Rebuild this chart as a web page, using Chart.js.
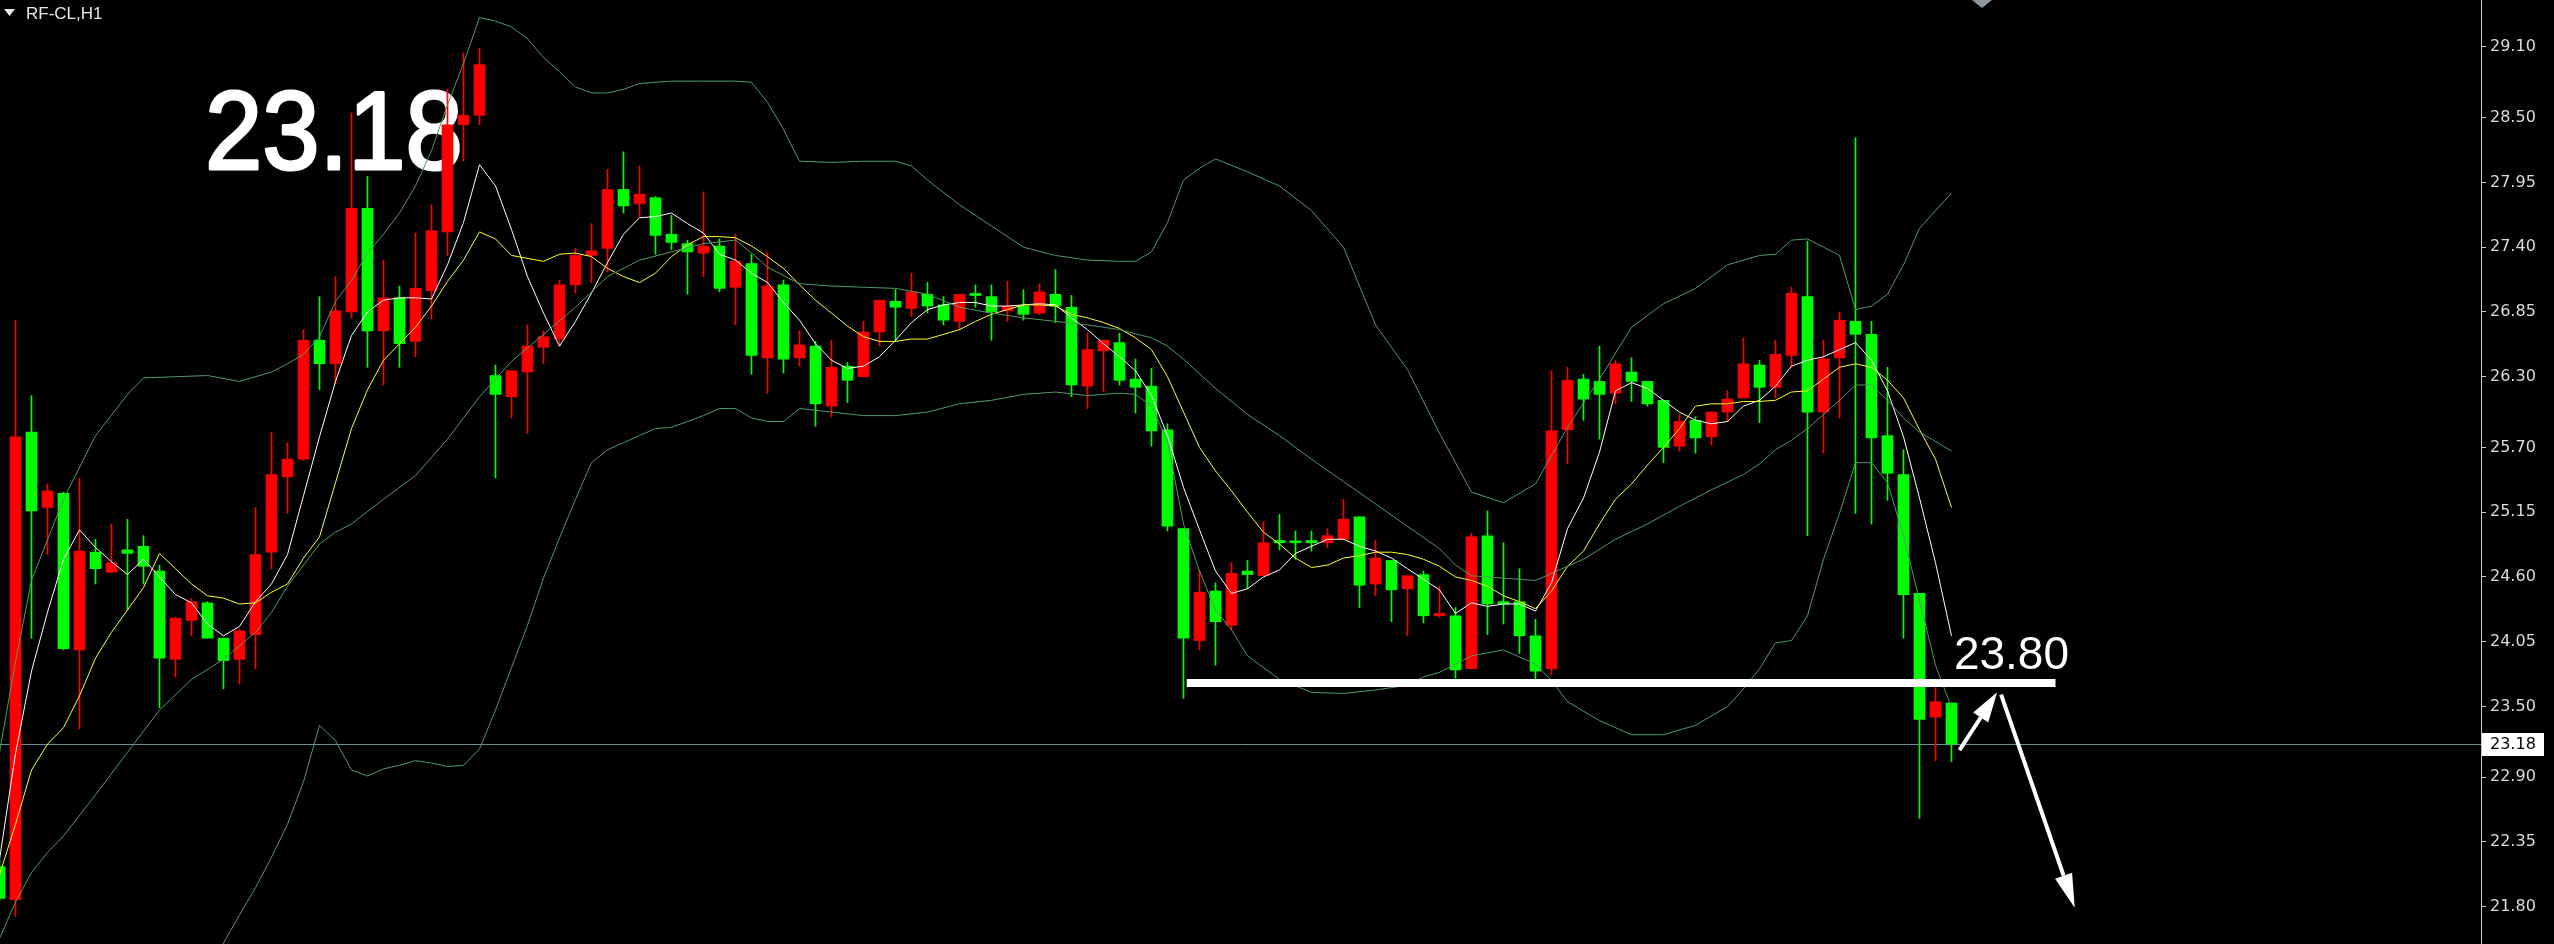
<!DOCTYPE html>
<html>
<head>
<meta charset="utf-8">
<script src="https://cdn.jsdelivr.net/npm/chart.js@4.4.0/dist/chart.umd.min.js"></script>
<style>
  html, body { margin: 0; padding: 0; background: #000; overflow: hidden; }
  #chart { display: block; }
</style>
</head>
<body>
<canvas id="chart" width="2554" height="944"></canvas>
<script>
// RF-CL H1 candles, one entry per bar (index 0 is the half-visible bar at the left edge)
const opens = [
  22.14, 21.86, 25.83, 25.19, 25.31, 23.98, 24.81, 24.64, 24.83, 24.86,
  24.65, 23.90, 24.23, 24.38, 24.08, 23.90, 24.11, 24.81, 25.45, 25.60,
  26.61, 26.41, 26.85, 27.73, 26.69, 26.97, 26.60, 27.03, 27.53, 28.44,
  28.52, 26.31, 26.13, 26.34, 26.55, 26.62, 27.08, 27.33, 27.39, 27.89,
  27.77, 27.82, 27.51, 27.43, 27.35, 27.41, 27.06, 27.26, 26.46, 27.08,
  26.46, 26.56, 26.05, 26.39, 26.30, 26.68, 26.94, 26.88, 27.00, 26.91,
  26.77, 27.00, 26.98, 26.86, 26.90, 26.84, 27.00, 26.89, 26.22, 26.52,
  26.59, 26.28, 26.22, 25.85, 25.01, 24.06, 24.48, 24.19, 24.65, 24.61,
  24.91, 24.90, 24.91, 24.89, 24.92, 25.11, 24.54, 24.74, 24.50, 24.62,
  24.27, 24.27, 23.82, 24.95, 24.39, 24.39, 24.10, 23.82, 25.85, 26.28,
  26.26, 26.16, 26.34, 26.26, 26.10, 25.71, 25.93, 25.79, 26.00, 26.12,
  26.40, 26.21, 26.48, 26.98, 26.00, 26.46, 26.77, 26.66, 25.80, 25.47,
  24.46, 23.41, 23.53
];
const highs = [
  22.20, 26.78, 26.14, 25.39, 25.32, 25.44, 24.92, 25.05, 25.09, 24.95,
  24.70, 24.26, 24.42, 24.39, 24.08, 24.16, 25.19, 25.83, 25.74, 26.70,
  26.98, 27.15, 28.54, 28.00, 27.29, 27.07, 27.52, 27.76, 28.74, 29.05,
  29.09, 26.40, 26.35, 26.74, 26.69, 27.12, 27.39, 27.60, 28.06, 28.21,
  28.09, 27.83, 27.67, 27.46, 27.87, 27.47, 27.51, 27.34, 27.36, 27.12,
  26.69, 26.60, 26.61, 26.42, 26.77, 26.95, 27.04, 27.18, 27.10, 26.98,
  27.00, 27.08, 27.08, 27.11, 27.04, 27.09, 27.21, 26.99, 26.67, 26.61,
  26.67, 26.45, 26.37, 25.90, 25.01, 24.66, 24.55, 24.72, 24.74, 25.07,
  25.13, 24.99, 24.99, 25.01, 25.26, 25.11, 24.91, 24.74, 24.61, 24.65,
  24.52, 24.34, 24.97, 25.16, 24.89, 24.67, 24.24, 26.35, 26.38, 26.32,
  26.56, 26.44, 26.46, 26.26, 26.10, 25.98, 25.96, 26.00, 26.18, 26.63,
  26.44, 26.61, 27.06, 27.45, 26.61, 26.85, 28.33, 26.77, 26.38, 25.68,
  24.46, 23.66, 23.53
];
const lows = [
  21.85, 21.72, 24.08, 24.79, 23.98, 23.31, 24.54, 24.64, 24.32, 24.54,
  23.49, 23.75, 24.10, 24.08, 23.65, 23.69, 23.82, 24.67, 25.14, 25.59,
  26.19, 26.24, 26.80, 26.38, 26.23, 26.38, 26.47, 26.79, 27.33, 28.13,
  28.44, 25.44, 25.95, 25.82, 26.41, 26.56, 27.01, 27.10, 27.19, 27.69,
  27.66, 27.34, 27.38, 27.00, 27.15, 27.02, 26.74, 26.32, 26.16, 26.33,
  26.39, 25.88, 25.96, 26.08, 26.30, 26.56, 26.60, 26.81, 26.84, 26.74,
  26.70, 26.89, 26.61, 26.77, 26.78, 26.83, 26.76, 26.13, 26.03, 26.17,
  26.23, 25.99, 25.71, 24.99, 23.57, 23.98, 23.85, 24.15, 24.50, 24.61,
  24.83, 24.75, 24.82, 24.85, 24.92, 24.34, 24.44, 24.22, 24.10, 24.21,
  24.26, 23.74, 23.82, 24.11, 24.20, 23.95, 23.73, 23.77, 25.56, 25.93,
  25.77, 26.07, 26.09, 26.05, 25.57, 25.67, 25.65, 25.72, 25.92, 26.12,
  25.91, 26.12, 26.38, 24.95, 25.65, 25.95, 25.14, 25.05, 25.25, 24.08,
  22.55, 23.04, 23.03
];
const closes = [
  21.87, 25.79, 25.16, 25.33, 23.99, 24.82, 24.67, 24.72, 24.80, 24.69,
  23.91, 24.25, 24.39, 24.08, 23.89, 24.14, 24.79, 25.47, 25.60, 26.61,
  26.41, 26.86, 27.73, 26.69, 26.97, 26.58, 27.05, 27.54, 28.44, 28.52,
  28.95, 26.15, 26.35, 26.56, 26.64, 27.08, 27.33, 27.37, 27.89, 27.75,
  27.85, 27.50, 27.44, 27.36, 27.41, 27.05, 27.28, 26.48, 27.07, 26.45,
  26.57, 26.07, 26.38, 26.27, 26.68, 26.95, 26.89, 27.02, 26.90, 26.78,
  27.00, 26.99, 26.85, 26.90, 26.83, 27.02, 26.90, 26.23, 26.53, 26.61,
  26.27, 26.21, 25.84, 25.03, 24.08, 24.47, 24.22, 24.63, 24.62, 24.89,
  24.89, 24.89, 24.89, 24.95, 25.09, 24.53, 24.76, 24.49, 24.61, 24.27,
  24.29, 23.81, 24.94, 24.37, 24.37, 24.10, 23.80, 25.84, 26.27, 26.11,
  26.15, 26.41, 26.26, 26.07, 25.70, 25.92, 25.78, 26.00, 26.11, 26.41,
  26.21, 26.49, 27.01, 26.00, 26.45, 26.78, 26.66, 25.78, 25.48, 24.45,
  23.39, 23.54, 23.18
];

// indicator lines as [bar index, price]
const maFast = [
  [0, 22.20], [1, 23.10], [2, 23.80], [3, 24.30], [4, 24.75], [5, 25.00], [6, 24.85], [7, 24.73],
  [8, 24.62], [9, 24.75], [10, 24.60], [11, 24.45], [12, 24.38], [13, 24.20], [14, 24.10], [15, 24.18],
  [16, 24.39], [17, 24.54], [18, 24.79], [19, 25.29], [20, 25.79], [21, 26.26], [22, 26.65], [23, 26.85],
  [24, 26.95], [25, 26.97], [26, 26.97], [27, 26.96], [28, 27.25], [29, 27.61], [30, 28.10], [31, 27.92],
  [32, 27.55], [33, 27.15], [34, 26.84], [35, 26.56], [36, 26.77], [37, 27.01], [38, 27.27], [39, 27.51],
  [40, 27.65], [41, 27.66], [42, 27.69], [43, 27.60], [44, 27.52], [45, 27.34], [46, 27.29], [47, 27.18],
  [48, 27.10], [49, 26.93], [50, 26.78], [51, 26.58], [52, 26.44], [53, 26.37], [54, 26.39], [55, 26.47],
  [56, 26.61], [57, 26.76], [58, 26.87], [59, 26.91], [60, 26.93], [61, 26.93], [62, 26.90], [63, 26.90],
  [64, 26.91], [65, 26.92], [66, 26.91], [67, 26.80], [68, 26.70], [69, 26.58], [70, 26.47], [71, 26.35],
  [72, 26.14], [73, 25.80], [74, 25.36], [75, 25.00], [76, 24.65], [77, 24.46], [78, 24.50], [79, 24.60],
  [80, 24.66], [81, 24.80], [82, 24.86], [83, 24.92], [84, 24.92], [85, 24.86], [86, 24.82], [87, 24.76],
  [88, 24.67], [89, 24.58], [90, 24.49], [91, 24.29], [92, 24.38], [93, 24.35], [94, 24.37], [95, 24.37],
  [96, 24.31], [97, 24.55], [98, 25.01], [99, 25.27], [100, 25.66], [101, 26.18], [102, 26.25], [103, 26.20],
  [104, 26.10], [105, 26.00], [106, 25.93], [107, 25.90], [108, 25.92], [109, 26.05], [110, 26.10], [111, 26.22],
  [112, 26.39], [113, 26.44], [114, 26.47], [115, 26.53], [116, 26.59], [117, 26.44], [118, 26.18], [119, 25.79],
  [120, 25.27], [121, 24.72], [122, 24.10]
];
const maSlow = [
  [0, 22.07], [1, 22.50], [2, 22.96], [3, 23.18], [4, 23.32], [5, 23.59], [6, 23.91], [7, 24.13],
  [8, 24.32], [9, 24.51], [10, 24.80], [11, 24.67], [12, 24.54], [13, 24.44], [14, 24.42], [15, 24.37],
  [16, 24.38], [17, 24.47], [18, 24.54], [19, 24.76], [20, 24.94], [21, 25.40], [22, 25.86], [23, 26.19],
  [24, 26.44], [25, 26.58], [26, 26.72], [27, 26.90], [28, 27.11], [29, 27.29], [30, 27.53], [31, 27.47],
  [32, 27.33], [34, 27.28], [35, 27.34], [36, 27.35], [37, 27.32], [38, 27.22], [39, 27.15], [40, 27.10],
  [41, 27.18], [42, 27.32], [43, 27.42], [44, 27.49], [45, 27.49], [46, 27.48], [47, 27.41], [48, 27.32],
  [49, 27.22], [50, 27.08], [51, 26.95], [52, 26.84], [53, 26.73], [54, 26.64], [55, 26.60], [56, 26.60],
  [57, 26.62], [58, 26.62], [59, 26.66], [60, 26.70], [61, 26.77], [62, 26.83], [63, 26.87], [64, 26.91],
  [65, 26.91], [66, 26.90], [67, 26.83], [68, 26.80], [69, 26.76], [70, 26.71], [71, 26.63], [72, 26.53],
  [73, 26.30], [74, 26.00], [75, 25.70], [76, 25.50], [77, 25.33], [78, 25.15], [79, 24.98], [80, 24.88],
  [81, 24.76], [82, 24.68], [83, 24.70], [84, 24.76], [85, 24.78], [86, 24.81], [87, 24.81], [88, 24.79],
  [89, 24.75], [90, 24.69], [91, 24.60], [92, 24.57], [93, 24.52], [94, 24.44], [95, 24.39], [96, 24.33],
  [97, 24.48], [98, 24.69], [99, 24.82], [100, 25.05], [101, 25.26], [102, 25.39], [103, 25.55], [104, 25.70],
  [105, 25.86], [106, 26.05], [107, 26.07], [108, 26.07], [109, 26.09], [110, 26.09], [111, 26.10], [112, 26.17],
  [113, 26.18], [114, 26.28], [115, 26.38], [116, 26.41], [117, 26.38], [118, 26.27], [119, 26.12], [120, 25.85],
  [121, 25.60], [122, 25.19]
];
const bandUpper = [
  [0, 23.11], [1, 23.88], [2, 24.57], [4, 25.26], [6, 25.80], [8, 26.15], [9, 26.29], [11, 26.30],
  [13, 26.31], [15, 26.26], [17, 26.34], [18, 26.41], [19, 26.49], [20, 26.64], [21, 26.94], [22, 27.12],
  [23, 27.35], [24, 27.51], [25, 27.69], [26, 27.92], [27, 28.22], [28, 28.61], [29, 28.96], [30, 29.35],
  [31, 29.32], [32, 29.27], [33, 29.17], [34, 29.01], [35, 28.89], [36, 28.76], [37, 28.71], [38, 28.71],
  [39, 28.74], [40, 28.79], [42, 28.81], [44, 28.81], [46, 28.81], [47, 28.80], [48, 28.63], [49, 28.40],
  [50, 28.13], [52, 28.12], [54, 28.13], [56, 28.13], [57, 28.09], [58, 27.97], [60, 27.76], [62, 27.58],
  [64, 27.40], [66, 27.33], [68, 27.29], [70, 27.28], [71, 27.28], [72, 27.36], [73, 27.61], [74, 27.97],
  [75, 28.07], [76, 28.15], [78, 28.04], [80, 27.92], [82, 27.71], [84, 27.40], [86, 26.74], [88, 26.36],
  [90, 25.82], [92, 25.32], [94, 25.23], [96, 25.39], [98, 25.87], [100, 26.28], [102, 26.72], [104, 26.92],
  [106, 27.05], [108, 27.25], [110, 27.33], [111, 27.34], [112, 27.46], [113, 27.47], [114, 27.40], [115, 27.33],
  [116, 26.87], [117, 26.90], [118, 27.00], [119, 27.25], [120, 27.56], [121, 27.71], [122, 27.86]
];
const bandMiddle = [
  [0, 21.53], [1, 21.84], [2, 22.09], [3, 22.26], [4, 22.40], [6, 22.75], [8, 23.11], [10, 23.47],
  [12, 23.73], [14, 23.90], [16, 24.13], [17, 24.30], [18, 24.52], [20, 24.88], [21, 24.98], [22, 25.05],
  [24, 25.26], [26, 25.46], [28, 25.77], [30, 26.13], [32, 26.43], [34, 26.66], [36, 26.89], [38, 27.15],
  [40, 27.29], [42, 27.36], [44, 27.43], [46, 27.46], [47, 27.35], [48, 27.23], [50, 27.09], [52, 27.07],
  [54, 27.06], [56, 27.05], [58, 27.00], [60, 26.89], [62, 26.84], [64, 26.80], [66, 26.77], [68, 26.74],
  [70, 26.70], [72, 26.63], [73, 26.56], [74, 26.45], [76, 26.20], [78, 25.98], [80, 25.80], [82, 25.60],
  [84, 25.41], [86, 25.22], [88, 25.03], [90, 24.84], [91, 24.70], [92, 24.61], [94, 24.59], [96, 24.57],
  [97, 24.63], [99, 24.75], [101, 24.92], [103, 25.05], [105, 25.20], [107, 25.34], [109, 25.47], [110, 25.56],
  [111, 25.68], [112, 25.76], [113, 25.86], [114, 25.98], [115, 26.10], [116, 26.23], [117, 26.23], [118, 26.10],
  [119, 25.95], [120, 25.83], [121, 25.75], [122, 25.67]
];
const bandLower = [
  [12, 20.95], [13, 21.22], [14, 21.49], [15, 21.73], [16, 21.96], [17, 22.22], [18, 22.50], [19, 22.86],
  [20, 23.34], [21, 23.21], [22, 22.96], [23, 22.91], [24, 22.97], [25, 23.00], [26, 23.04], [27, 23.02],
  [28, 22.99], [29, 23.00], [30, 23.14], [31, 23.47], [32, 23.83], [33, 24.19], [34, 24.59], [35, 24.93],
  [36, 25.26], [37, 25.57], [38, 25.68], [39, 25.74], [40, 25.80], [41, 25.86], [42, 25.87], [43, 25.92],
  [44, 25.97], [45, 26.03], [46, 26.03], [47, 25.95], [48, 25.92], [49, 25.92], [50, 26.03], [52, 26.00],
  [54, 25.97], [56, 25.97], [58, 26.00], [60, 26.07], [62, 26.10], [64, 26.15], [66, 26.17], [68, 26.14],
  [70, 26.16], [71, 26.15], [72, 26.05], [73, 25.75], [74, 25.05], [75, 24.65], [76, 24.32], [77, 24.15],
  [78, 23.93], [80, 23.73], [82, 23.62], [84, 23.61], [86, 23.64], [88, 23.68], [89, 23.75], [90, 23.79],
  [92, 23.93], [94, 23.98], [96, 23.86], [97, 23.72], [98, 23.54], [100, 23.38], [102, 23.26], [104, 23.26],
  [106, 23.34], [108, 23.50], [109, 23.65], [110, 23.82], [111, 24.04], [112, 24.06], [113, 24.27], [114, 24.75],
  [115, 25.14], [116, 25.57], [117, 25.57], [118, 25.40], [119, 24.95], [120, 24.40], [121, 23.85], [122, 23.49]
];

// price axis labels
const tickValues = [29.10, 28.50, 27.95, 27.40, 26.85, 26.30, 25.70, 25.15, 24.60, 24.05, 23.50, 22.90, 22.35, 21.80];

// hand-drawn annotations, in bar index / price units
const supportLine = { from: 74.2, to: 128.5, price: 23.70 };
const supportText = { at: 122.15, price: 23.82, text: '23.80' };
const arrowUp = [[122.5, 23.13], [124.85, 23.62]];
const arrowDown = [[125.1, 23.60], [129.7, 21.79]];
const symbolText = 'RF-CL,H1';
const bigText = '23.18';

const upColor = '#ff0000';
const downColor = '#00ff00';
const bandColor = '#4f9a6a';

const lastClose = closes[closes.length - 1];
const barIdx = opens.map((_, i) => i);
const candleColors = barIdx.map(i => closes[i] > opens[i] ? upColor : downColor);

function toPoints(pairs) {
    return pairs.map(p => ({ x: p[0], y: p[1] }));
}

function drawArrow(ctx, x1, y1, x2, y2, headLen, headHalf) {
    const ang = Math.atan2(y2 - y1, x2 - x1);
    const bx = x2 - headLen * Math.cos(ang);
    const by = y2 - headLen * Math.sin(ang);
    ctx.beginPath();
    ctx.moveTo(x1, y1);
    ctx.lineTo(bx, by);
    ctx.stroke();
    ctx.beginPath();
    ctx.moveTo(x2, y2);
    ctx.lineTo(bx + headHalf * Math.sin(ang), by - headHalf * Math.cos(ang));
    ctx.lineTo(bx - headHalf * Math.sin(ang), by + headHalf * Math.cos(ang));
    ctx.closePath();
    ctx.fill();
}

const overlay = {
    id: 'overlay',
    beforeDatasetsDraw(chart) {
        const { ctx, chartArea, scales } = chart;
        const y = Math.round(scales.y.getPixelForValue(lastClose)) + 0.5;
        ctx.save();
        // bid line
        ctx.strokeStyle = '#6f8f99';
        ctx.lineWidth = 1;
        ctx.beginPath();
        ctx.moveTo(chartArea.left, y);
        ctx.lineTo(chartArea.right, y);
        ctx.stroke();
        // big price note
        ctx.fillStyle = '#ffffff';
        ctx.font = '112px "Liberation Sans", Arial, sans-serif';
        ctx.textBaseline = 'alphabetic';
        ctx.translate(205, 169);
        ctx.scale(0.92, 1);
        ctx.lineWidth = 3;
        ctx.lineJoin = 'round';
        ctx.strokeStyle = '#ffffff';
        ctx.strokeText(bigText, 0, 0);
        ctx.fillText(bigText, 0, 0);
        ctx.restore();
    },
    afterDatasetsDraw(chart) {
        const { ctx, scales } = chart;
        const xs = scales.x, ys = scales.y;
        ctx.save();
        ctx.fillStyle = '#ffffff';
        ctx.strokeStyle = '#ffffff';
        // support line
        ctx.lineWidth = 8;
        ctx.beginPath();
        ctx.moveTo(xs.getPixelForValue(supportLine.from), ys.getPixelForValue(supportLine.price));
        ctx.lineTo(xs.getPixelForValue(supportLine.to), ys.getPixelForValue(supportLine.price));
        ctx.stroke();
        ctx.font = '46px "Liberation Sans", Arial, sans-serif';
        ctx.textBaseline = 'alphabetic';
        ctx.fillText(supportText.text, xs.getPixelForValue(supportText.at), ys.getPixelForValue(supportText.price));
        // arrows
        ctx.lineWidth = 4;
        drawArrow(ctx,
            xs.getPixelForValue(arrowUp[0][0]), ys.getPixelForValue(arrowUp[0][1]),
            xs.getPixelForValue(arrowUp[1][0]), ys.getPixelForValue(arrowUp[1][1]), 30, 9);
        drawArrow(ctx,
            xs.getPixelForValue(arrowDown[0][0]), ys.getPixelForValue(arrowDown[0][1]),
            xs.getPixelForValue(arrowDown[1][0]), ys.getPixelForValue(arrowDown[1][1]), 34, 9);
        ctx.restore();
    },
    afterDraw(chart) {
        const { ctx, chartArea, scales } = chart;
        const y = scales.y.getPixelForValue(lastClose);
        ctx.save();
        // current price box on the axis
        ctx.fillStyle = '#ffffff';
        ctx.fillRect(chartArea.right + 1, Math.round(y) - 11, 62, 23);
        ctx.fillStyle = '#000000';
        ctx.font = '16px "DejaVu Sans", sans-serif';
        ctx.textBaseline = 'middle';
        ctx.fillText(lastClose.toFixed(2), chartArea.right + 9, y + 1);
        // symbol caption
        ctx.fillStyle = '#e8e8e8';
        ctx.beginPath();
        ctx.moveTo(4, 9);
        ctx.lineTo(15, 9);
        ctx.lineTo(9.5, 16);
        ctx.closePath();
        ctx.fill();
        ctx.font = '17px "Liberation Sans", Arial, sans-serif';
        ctx.textBaseline = 'middle';
        ctx.fillText(symbolText, 26, 14);
        // chart shift marker
        ctx.fillStyle = '#8c96a0';
        ctx.beginPath();
        ctx.moveTo(1972, 0);
        ctx.lineTo(1992, 0);
        ctx.lineTo(1982, 8);
        ctx.closePath();
        ctx.fill();
        ctx.restore();
    }
};

const lineStyle = { type: 'line', borderWidth: 1, pointRadius: 0, tension: 0, order: 0 };

new Chart(document.getElementById('chart'), {
    type: 'bar',
    data: {
        datasets: [
            { ...lineStyle, label: 'upper', data: toPoints(bandUpper), borderColor: bandColor },
            { ...lineStyle, label: 'middle', data: toPoints(bandMiddle), borderColor: bandColor },
            { ...lineStyle, label: 'lower', data: toPoints(bandLower), borderColor: bandColor },
            { ...lineStyle, label: 'slow', data: toPoints(maSlow), borderColor: '#ffff33' },
            { ...lineStyle, label: 'fast', data: toPoints(maFast), borderColor: '#ffffff' },
            {
                label: 'body',
                data: barIdx.map(i => ({ x: i, y: [opens[i], closes[i]] })),
                backgroundColor: candleColors,
                barThickness: 11,
                minBarLength: 2,
                grouped: false,
                order: 1
            },
            {
                label: 'wick',
                data: barIdx.map(i => ({ x: i, y: [lows[i], highs[i]] })),
                backgroundColor: candleColors,
                barThickness: 1,
                grouped: false,
                order: 2
            }
        ]
    },
    options: {
        responsive: false,
        devicePixelRatio: 1,
        animation: false,
        layout: { padding: 0 },
        plugins: {
            legend: { display: false },
            tooltip: { enabled: false }
        },
        scales: {
            x: {
                type: 'linear',
                display: false,
                offset: false,
                min: 0.03125,
                max: 155.09375
            },
            y: {
                position: 'right',
                min: 21.483,
                max: 29.499,
                afterBuildTicks: (scale) => {
                    scale.ticks = tickValues.map(v => ({ value: v }));
                },
                afterFit: (scale) => {
                    scale.width = 73;
                    scale.paddingTop = 0;
                    scale.paddingBottom = 0;
                },
                grid: {
                    drawOnChartArea: false,
                    drawTicks: true,
                    tickLength: 5,
                    color: '#c8c8c8'
                },
                border: { display: true, color: '#c8c8c8', width: 1 },
                ticks: {
                    color: '#dcdcdc',
                    padding: 4,
                    autoSkip: false,
                    maxRotation: 0,
                    font: { family: 'DejaVu Sans', size: 16 },
                    callback: (value) => Number(value).toFixed(2)
                }
            }
        }
    },
    plugins: [overlay]
});
</script>
</body>
</html>
